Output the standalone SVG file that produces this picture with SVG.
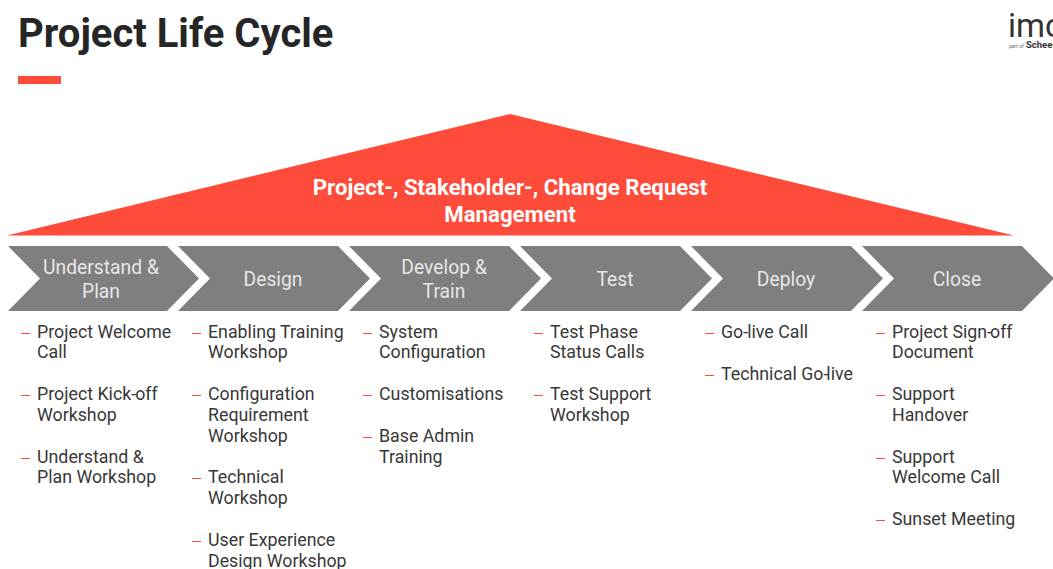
<svg xmlns="http://www.w3.org/2000/svg" width="1053" height="569" viewBox="0 0 1053 569">
<style>
text{font-family:Roboto,"Liberation Sans",sans-serif}
.chev{fill:#7f7f7f}
.ct{fill:#e6e6e6;font-size:19.3px;text-anchor:middle}
.li{fill:#383838;font-size:17.8px}
.d{stroke:#ff4b3a;stroke-width:1;fill:none}
</style>
<rect width="1053" height="569" fill="#fff"/>
<g id="title"><text x="18" y="47" font-size="40" font-weight="700" fill="#262626">Project Life Cycle</text><rect x="18" y="76" width="43" height="8" fill="#ff4b3a"/></g>
<g id="logo"><text x="1008" y="37" font-size="33" fill="#333">imc</text><text x="1009" y="48" font-size="5" fill="#666">part of</text><text x="1026" y="48" font-size="9.500" font-weight="700" fill="#333">Scheer</text></g>
<g id="roof"><polygon points="510,114 1014,235.500 7,235.500" fill="#ff4b3a"/><text x="510" y="195" font-size="22.200" font-weight="700" fill="#fff" text-anchor="middle">Project-, Stakeholder-, Change Request</text><text x="510" y="222" font-size="22.200" font-weight="700" fill="#fff" text-anchor="middle">Management</text></g>
<g id="p1"><polygon class="chev" points="8,246 167,246 199,278.500 167,311 8,311 40,278.500"/><text class="ct" x="101" y="274">Understand &amp;</text><text class="ct" x="101" y="298">Plan</text>
<path class="d" d="M21 333.500h9M21 395.500h9M21 458.500h9"/><text class="li" x="37" y="338">Project Welcome</text><text class="li" x="37" y="358">Call</text><text class="li" x="37" y="400">Project Kick-<tspan dx="-1">off</tspan></text><text class="li" x="37" y="421">Workshop</text><text class="li" x="37" y="463">Understand &amp;</text><text class="li" x="37" y="483">Plan Workshop</text></g>
<g id="p2"><polygon class="chev" points="178,246 338,246 370,278.500 338,311 178,311 210,278.500"/><text class="ct" x="273" y="286">Design</text>
<path class="d" d="M192 333.500h9M192 395.500h9M192 478.500h9M192 541.500h9"/><text class="li" x="208" y="338">Enabling Training</text><text class="li" x="208" y="358">Workshop</text><text class="li" x="208" y="400">Configuration</text><text class="li" x="208" y="421">Requirement</text><text class="li" x="208" y="442">Workshop</text><text class="li" x="208" y="483">Technical</text><text class="li" x="208" y="504">Workshop</text><text class="li" x="208" y="546">User Experience</text><text class="li" x="208" y="567">Design Workshop</text></g>
<g id="p3"><polygon class="chev" points="349,246 509,246 541,278.500 509,311 349,311 381,278.500"/><text class="ct" x="444" y="274">Develop &amp;</text><text class="ct" x="444" y="298">Train</text>
<path class="d" d="M363 333.500h9M363 395.500h9M363 437.500h9"/><text class="li" x="379" y="338">System</text><text class="li" x="379" y="358">Configuration</text><text class="li" x="379" y="400">Customisations</text><text class="li" x="379" y="442">Base Admin</text><text class="li" x="379" y="463">Training</text></g>
<g id="p4"><polygon class="chev" points="520,246 680,246 712,278.500 680,311 520,311 552,278.500"/><text class="ct" x="615" y="286">Test</text>
<path class="d" d="M534 333.500h9M534 395.500h9"/><text class="li" x="550" y="338">Test Phase</text><text class="li" x="550" y="358">Status Calls</text><text class="li" x="550" y="400">Test Support</text><text class="li" x="550" y="421">Workshop</text></g>
<g id="p5"><polygon class="chev" points="691,246 851,246 883,278.500 851,311 691,311 723,278.500"/><text class="ct" x="786" y="286">Deploy</text>
<path class="d" d="M705 333.500h9M705 375.500h9"/><text class="li" x="721" y="338">Go-<tspan dx="-1">live Call</tspan></text><text class="li" x="721" y="380">Technical Go-<tspan dx="-2">live</tspan></text></g>
<g id="p6"><polygon class="chev" points="862,246 1022,246 1054,278.500 1022,311 862,311 894,278.500"/><text class="ct" x="957" y="286">Close</text>
<path class="d" d="M876 333.500h9M876 395.500h9M876 458.500h9M876 520.500h9"/><text class="li" x="892" y="338">Project Sign-<tspan dx="-2">off</tspan></text><text class="li" x="892" y="358">Document</text><text class="li" x="892" y="400">Support</text><text class="li" x="892" y="421">Handover</text><text class="li" x="892" y="463">Support</text><text class="li" x="892" y="483">Welcome Call</text><text class="li" x="892" y="525">Sunset Meeting</text></g>
<g id="connectors"/>
</svg>
